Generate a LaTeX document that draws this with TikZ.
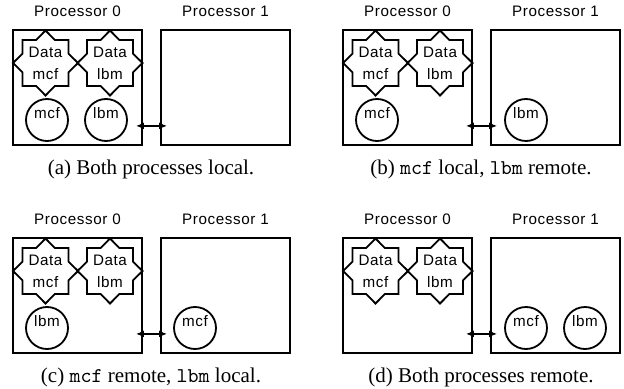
\documentclass[tikz,border=0pt]{standalone}
\usepackage{fontspec}
\setmainfont{Liberation Serif}
\setsansfont{Liberation Sans}
\newfontfamily\boxfont[LetterSpace=4]{Liberation Sans}
\usetikzlibrary{shapes.geometric,arrows.meta,calc}

\tikzset{
  procbox/.style={draw, line width=0.9pt, minimum width=64.5pt, minimum height=57.5pt, inner sep=0pt},
  proclabel/.style={font=\boxfont\fontsize{7.6}{11}\selectfont},
  datastar/.style={draw, line width=0.9pt, star, star points=8, star point ratio=1.31, minimum size=32.5pt, inner sep=0pt},
  startext/.style={align=center, font=\boxfont\fontsize{7.6}{11}\selectfont},
  job/.style={draw, circle, line width=0.9pt, minimum size=21pt, inner sep=0pt},
  jobtext/.style={yshift=3.25pt, font=\boxfont\fontsize{7.6}{11}\selectfont},
  link/.style={{Latex[length=4pt,width=3.5pt]}-{Latex[length=4pt,width=3.5pt]}, line width=0.9pt},
  caption/.style={font=\fontsize{10.5}{12}\selectfont}
}

\begin{document}
\begin{tikzpicture}[x=0.5pt, y=-0.5pt]
\useasboundingbox (0,0) rectangle (624,389);

% both processors, the two data blocks and the link, in every panel
\foreach \i/\ox/\oy in {a/13/30, b/343/30, c/13/238, d/343/238} {
  \node[procbox] (p0\i) at (\ox+64.5,\oy+57.5) {};
  \node[procbox] (p1\i) at (\ox+212.5,\oy+57.5) {};
  \node[proclabel] (t0\i) at ($(p0\i.north)+(0,-18)$) {Processor 0};
  \node[proclabel] (t1\i) at ($(p1\i.north)+(0,-18)$) {Processor 1};

  \node[datastar, label={[startext]center:{Data\\mcf}}] (dm\i) at (\ox+32.5,\oy+33) {};
  \node[datastar, label={[startext]center:{Data\\lbm}}] (dl\i) at (\ox+97,\oy+33) {};

  \coordinate (al\i) at ($(p0\i.south east)+(-7,-20)$);
  \coordinate (ar\i) at ($(p1\i.south west)+(7,-20)$);
  \draw[link] (al\i) -- (ar\i);
}

% (a)
\node[job, label={[jobtext]center:mcf}] (mcfa) at (47,120) {};
\node[job, label={[jobtext]center:lbm}] (lbma) at (106,120) {};
\node[caption] (capa) at (151,169) {(a) Both processes local.};

% (b)
\node[job, label={[jobtext]center:mcf}] (mcfb) at (377,120) {};
\node[job, label={[jobtext]center:lbm}] (lbmb) at (526,120) {};
\node[caption] (capb) at (481,169) {(b) \texttt{mcf} local, \texttt{lbm} remote.};

% (c)
\node[job, label={[jobtext]center:lbm}] (lbmc) at (47,328) {};
\node[job, label={[jobtext]center:mcf}] (mcfc) at (195,328) {};
\node[caption] (capc) at (151,377) {(c) \texttt{mcf} remote, \texttt{lbm} local.};

% (d)
\node[job, label={[jobtext]center:mcf}] (mcfd) at (526,328) {};
\node[job, label={[jobtext]center:lbm}] (lbmd) at (585,328) {};
\node[caption] (capd) at (481,377) {(d) Both processes remote.};

\end{tikzpicture}
\end{document}
